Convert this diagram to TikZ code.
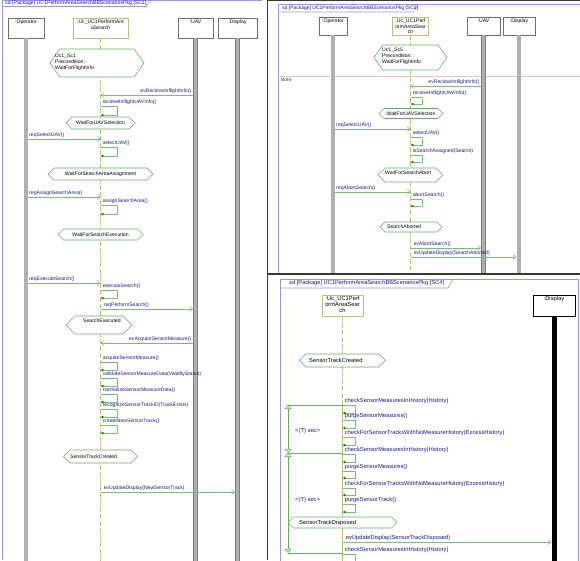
\documentclass[tikz,border=0pt]{standalone}
\usepackage{fontspec}
\setmainfont{Liberation Sans}
\definecolor{FrameColor}{RGB}{150,150,225}
\definecolor{MsgColor}{RGB}{120,190,120}
\definecolor{HeadColor}{RGB}{0,120,0}
\definecolor{LabelColor}{RGB}{25,25,120}
\definecolor{CondColor}{RGB}{100,170,100}
\definecolor{BoxColor}{RGB}{110,110,110}
\definecolor{UcColor}{RGB}{190,190,120}
\definecolor{BarLight}{RGB}{175,175,175}
\definecolor{BarDark}{RGB}{125,125,125}
\definecolor{NoteColor}{RGB}{235,190,205}
\definecolor{DividerColor}{RGB}{55,55,55}
\usetikzlibrary{arrows.meta, shapes.symbols}
\tikzset{
    small/.style={font=\fontsize{5.1}{6.2}\selectfont},
    large/.style={font=\fontsize{5.8}{5.8}\selectfont},
    lifebox/.style={draw=BoxColor, fill=white, minimum height=20pt, inner sep=0pt},
    ucbox/.style={lifebox, draw=UcColor},
    boxtext/.style={small, anchor=north, align=center, inner sep=1.5pt},
    bar/.style={draw=BarDark, line width=0.5pt, double=BarLight, double distance=3.5pt},
    blackbar/.style={draw=black, line width=5pt},
    ucline/.style={draw=UcColor, line width=0.7pt, dash pattern=on 5pt off 2pt},
    ucsolid/.style={draw=UcColor, line width=0.9pt},
    msg/.style={draw=MsgColor, line width=0.6pt, -{Straight Barb[length=3pt,width=5pt]}},
    frombar/.style={shorten <=2.3pt},
    tobar/.style={shorten >=2.5pt},
    selfmsg/.style={draw=MsgColor, line width=0.6pt, -{Latex[length=2.8pt,width=2.8pt,color=HeadColor]}},
    lbl/.style={small, text=LabelColor, inner sep=1pt},
    fromleft/.style={lbl, pos=0, anchor=south west, xshift=2pt},
    fromright/.style={lbl, pos=0, anchor=south east, xshift=-3pt},
    callname/.style={lbl, anchor=south west, xshift=1pt},
    callbig/.style={callname, large},
    cond/.style={shape=signal, signal to=east and west, signal pointer angle=90,
        draw=CondColor, fill=white, small, inner sep=1pt, line width=0.6pt},
    condtext/.style={small, anchor=west, align=left, inner sep=0pt},
    loopline/.style={draw=CondColor, line width=0.7pt},
    looptip/.style={loopline, {Triangle[open,length=4pt,width=7pt]}-{Triangle[open,length=4pt,width=7pt]}},
    frame/.style={draw=FrameColor, line width=0.6pt},
    tabtext/.style={text=LabelColor, inner sep=0pt, anchor=west},
    noteline/.style={draw=NoteColor, line width=0.6pt},
    divider/.style={draw=DividerColor, line width=1.6pt}
}

\begin{document}
\begin{tikzpicture}[x=1pt, y=-1pt]
\useasboundingbox (0,0) rectangle (580,560);

% SC1
\draw[frame] (2,560) -- (2,0.5) -- (262,0.5);
\draw[frame] (2,6.5) -- (146,6.5) -- (151,0.5);
\node[tabtext, font=\fontsize{5.2}{5.5}\selectfont] (tab1) at (5,3.3) {sd [Package] UC1PerformAreaSearchBBScenariosPkg [SC1]};

\node[lifebox, minimum width=36pt] (op1) at (26,28) {};
\node[boxtext] (op1t) at (op1.north) {:Operator};
\node[ucbox, minimum width=55pt] (uc1) at (100.5,28) {};
\node[boxtext] (uc1t) at (uc1.north) {:Uc\_UC1PerformAre\\aSearch};
\node[lifebox, minimum width=35pt] (uav1) at (195.5,28) {};
\node[boxtext] (uav1t) at (uav1.north) {:UAV};
\node[lifebox, minimum width=39pt] (disp1) at (237.5,28) {};
\node[boxtext] (disp1t) at (disp1.north) {:Display};

\draw[bar] (op1.south) -- (op1 |- 0,561);
\draw[ucline] (uc1.south) -- (uc1 |- 0,561);
\draw[bar] (uav1.south) -- (uav1 |- 0,561);
\draw[bar] (disp1.south) -- (disp1 |- 0,561);

\node[cond, signal pointer angle=110, minimum width=94pt, minimum height=28pt] (pre1) at (97,63) {};
\node[condtext] (pre1t) at (55,62) {Uc1\_Sc1\\Precondition:\\WaitForFlightInfo};
\draw[msg, frombar] (uav1 |- 0,95) -- node[fromright] (m1) {evRecieveInflightInfo()} (uc1 |- 0,95);
\draw[selfmsg] (uc1 |- 0,106) node[callname] (s1) {recieveInflightUAVInfo()} -- ++(17,0) -- ++(0,9) -- (uc1 |- 0,115);
\node[cond, minimum width=69pt, minimum height=12pt] (c1) at (uc1 |- 0,123) {WaitForUAVSelection};
\draw[msg, frombar] (op1 |- 0,139) -- node[fromleft] (m2) {reqSelectUAV()} (uc1 |- 0,139);
\draw[selfmsg] (uc1 |- 0,147) node[callname] (s2) {selectUAV()} -- ++(17,0) -- ++(0,9) -- (uc1 |- 0,156);
\node[cond, minimum width=105pt, minimum height=12pt] (c2) at (uc1 |- 0,174) {WaitForSearchAreaAssignment};
\draw[msg, frombar] (op1 |- 0,197) -- node[fromleft] (m3) {reqAssignSearchArea()} (uc1 |- 0,197);
\draw[selfmsg] (uc1 |- 0,205) node[callname] (s3) {assignSearchArea()} -- ++(17,0) -- ++(0,9) -- (uc1 |- 0,214);
\node[cond, minimum width=85pt, minimum height=11pt] (c3) at (uc1 |- 0,234.5) {WaitForSearchExecution};
\draw[msg, frombar] (op1 |- 0,283) -- node[fromleft] (m4) {reqExecuteSearch()} (uc1 |- 0,283);
\draw[selfmsg] (uc1 |- 0,290) node[callname] (s4) {executeSearch()} -- ++(17,0) -- ++(0,8) -- (uc1 |- 0,298);
\draw[msg, tobar] (uc1 |- 0,309) -- node[fromleft] (m5) {reqPerformSearch()} (uav1 |- 0,309);
\node[cond, minimum width=66pt, minimum height=18pt] (c4) at (99,325) {};
\node[condtext] (c4t) at (83,321) {SearchExecuted};
\draw[msg, frombar] (uav1 |- 0,343) -- node[fromright] (m6) {evAcquireSensorMeasure()} (uc1 |- 0,343);
\draw[selfmsg] (uc1 |- 0,362) node[callname] (s5) {acquireSensorMeasure()} -- ++(17,0) -- ++(0,8) -- (uc1 |- 0,370);
\draw[selfmsg] (uc1 |- 0,378) node[callname] (s6) {validateSensorMeasureData(ValidityStatus)} -- ++(17,0) -- ++(0,8) -- (uc1 |- 0,386);
\draw[selfmsg] (uc1 |- 0,394) node[callname] (s7) {normalizeSensorMeasureData()} -- ++(17,0) -- ++(0,8) -- (uc1 |- 0,402);
\draw[selfmsg] (uc1 |- 0,409) node[callname] (s8) {recognizeSensorTrackID(TrackExists)} -- ++(17,0) -- ++(0,8) -- (uc1 |- 0,417);
\draw[selfmsg] (uc1 |- 0,425) node[callname] (s9) {createNewSensorTrack()} -- ++(17,0) -- ++(0,8) -- (uc1 |- 0,433);
\node[cond, minimum width=74pt, minimum height=13pt] (c5) at (uc1 |- 0,456.5) {};
\node[condtext] (c5t) at (70,456.5) {SensorTrackCreated};
\draw[msg, tobar] (uc1 |- 0,492) -- node[fromleft] (m7) {evUpdateDisplay(NewSensorTrack)} (disp1 |- 0,492);

% SC5
\draw[frame] (278,274) -- (278,4.5) -- (580,4.5);
\draw[frame] (278,12) -- (413,12) -- (418,4.5);
\node[tabtext, font=\fontsize{5}{5.5}\selectfont] (tab2) at (282,8.3) {sd [Package] UC1PerformAreaSearchBBScenariosPkg [SC5]};

\node[lifebox, minimum width=28pt, minimum height=18pt] (op2) at (333,26) {};
\node[boxtext] (op2t) at (op2.north) {:Operator};
\node[ucbox, minimum width=36pt, minimum height=18pt] (uc2) at (410.5,26) {};
\node[boxtext, font=\fontsize{5.1}{5.9}\selectfont] (uc2t) at (uc2.north) {:Uc\_UC1Perf\\ormAreaSear\\ch};
\node[lifebox, minimum width=33pt, minimum height=18pt] (uav2) at (483.5,26) {};
\node[boxtext] (uav2t) at (uav2.north) {:UAV};
\node[lifebox, minimum width=32pt, minimum height=18pt] (disp2) at (519,26) {};
\node[boxtext] (disp2t) at (disp2.north) {:Display};

\draw[noteline] (278,76) -- (580,76);
\node[small, text=LabelColor!70!gray, anchor=north west, inner sep=0.5pt] (note) at (280,76.8) {Note};

\draw[bar] (op2.south) -- (op2 |- 0,273);
\draw[ucline] (uc2.south) -- (uc2 |- 0,273);
\draw[bar] (uav2.south) -- (uav2 |- 0,273);
\draw[bar] (disp2.south) -- (disp2 |- 0,273);

\node[cond, signal pointer angle=110, minimum width=73pt, minimum height=25pt] (pre2) at (410.5,57.5) {};
\node[condtext] (pre2t) at (382,56.5) {Uc1\_Sc5\\Precondition:\\WaitForFlightInfo};
\draw[msg, frombar] (uav2 |- 0,86) -- node[fromright] (n1) {evRecieveInflightInfo()} (uc2 |- 0,86);
\draw[selfmsg] (uc2 |- 0,97) node[callname] (t1) {recieveInflightUAVInfo()} -- ++(12,0) -- ++(0,7) -- (uc2 |- 0,104);
\node[cond, minimum width=64pt, minimum height=10pt] (d1) at (411,113.5) {WaitForUAVSelection};
\draw[msg, frombar] (op2 |- 0,129) -- node[fromleft] (n2) {reqSelectUAV()} (uc2 |- 0,129);
\draw[selfmsg] (uc2 |- 0,137) node[callname] (t2) {selectUAV()} -- ++(12,0) -- ++(0,8) -- (uc2 |- 0,145);
\draw[selfmsg] (uc2 |- 0,155) node[callname] (t3) {isSearchAssigned(Search)} -- ++(12,0) -- ++(0,7) -- (uc2 |- 0,162);
\node[cond, minimum width=65pt, minimum height=14pt] (d2) at (410.5,175) {};
\node[condtext] (d2t) at (385,172.5) {WaitForSearchAbort};
\draw[msg, frombar] (op2 |- 0,192) -- node[fromleft] (n3) {reqAbortSearch()} (uc2 |- 0,192);
\draw[selfmsg] (uc2 |- 0,199) node[callname] (t4) {abortSearch()} -- ++(12,0) -- ++(0,7) -- (uc2 |- 0,206);
\node[cond, minimum width=62pt, minimum height=10pt] (d3) at (411,227) {};
\node[condtext] (d3t) at (387,226.5) {SearchAborted};
\draw[msg, tobar] (uc2 |- 0,248) -- node[fromleft] (n4) {evAbortSearch()} (uav2 |- 0,248);
\draw[msg, tobar] (uc2 |- 0,257) -- node[fromleft] (n5) {evUpdateDisplay(SearchAborted)} (disp2 |- 0,257);

% SC4
\draw[frame] (280,561) -- (280,279) -- (578,279) -- (578,561);
\draw[frame] (280,288) -- (448,288) -- (453,279);
\node[tabtext, font=\fontsize{5.7}{6}\selectfont] (tab3) at (289,283.5) {sd [Package] UC1PerformAreaSearchBBScenariosPkg [SC4]};

\node[ucbox, minimum width=41pt, minimum height=21pt] (uc3) at (342.5,305.5) {};
\node[boxtext, large] (uc3t) at (uc3.north) {:Uc\_UC1Perf\\ormAreaSear\\ch};
\node[lifebox, draw=black, minimum width=42pt, minimum height=21pt] (disp3) at (554,305.5) {};
\node[boxtext, large] (disp3t) at (disp3.north) {:Display};

\draw[ucline] (uc3.south) -- (uc3 |- 0,400);
\draw[ucsolid] (uc3 |- 0,400) -- (uc3 |- 0,561);
\draw[blackbar] (disp3.south) -- (disp3 |- 0,561);

\node[cond, large, minimum width=86pt, minimum height=13pt] (e1) at (uc3 |- 0,360.5) {};
\node[condtext, large] (e1t) at (309,360.5) {SensorTrackCreated};

\coordinate (lp1top) at (288,405);
\coordinate (lp1bot) at (288,453);
\coordinate (lp2bot) at (288,553);
\draw[looptip] (lp1bot) -- (lp1top);
\draw[looptip] (lp2bot) -- (lp1bot);
\draw[loopline] (lp1top) -- (uc3 |- lp1top);
\draw[loopline] (lp1bot) -- (uc3 |- lp1bot);
\draw[loopline] (lp2bot) -- (uc3 |- lp2bot);
\node[lbl, large, anchor=west] (tsec1) at (294,431) {<(T) sec>};
\node[lbl, large, anchor=west] (tsec2) at (294,500) {<(T) sec>};

\draw[selfmsg] (uc3 |- 0,405) node[callbig] (u1) {checkSensorMeasuresInHistory(History)} -- ++(13,0) -- ++(0,8) -- (uc3 |- 0,413);
\draw[selfmsg] (uc3 |- 0,420) node[callbig] (u2) {purgeSensorMeasures()} -- ++(13,0) -- ++(0,8) -- (uc3 |- 0,428);
\draw[selfmsg] (uc3 |- 0,437) node[callbig] (u3) {checkForSensorTracksWithNoMeasureHistory(ExcessHistory)} -- ++(13,0) -- ++(0,8) -- (uc3 |- 0,445);
\draw[selfmsg] (uc3 |- 0,454) node[callbig] (u4) {checkSensorMeasuresInHistory(History)} -- ++(13,0) -- ++(0,8) -- (uc3 |- 0,462);
\draw[selfmsg] (uc3 |- 0,471) node[callbig] (u5) {purgeSensorMeasures()} -- ++(13,0) -- ++(0,7) -- (uc3 |- 0,478);
\draw[selfmsg] (uc3 |- 0,488) node[callbig] (u6) {checkForSensorTracksWithNoMeasureHistory(ExcessHistory)} -- ++(13,0) -- ++(0,7) -- (uc3 |- 0,495);
\draw[selfmsg] (uc3 |- 0,504) node[callbig] (u7) {purgeSensorTrack()} -- ++(13,0) -- ++(0,8) -- (uc3 |- 0,512);
\node[cond, large, minimum width=109pt, minimum height=11pt] (e2) at (uc3 |- 0,522.5) {};
\node[condtext, large] (e2t) at (299,522.5) {SensorTrackDisposed};
\draw[msg, tobar] (uc3 |- 0,542) -- node[fromleft, large] (v1) {evUpdateDisplay(SensorTrackDisposed)} (disp3 |- 0,542);
\draw[selfmsg] (uc3 |- 0,554) node[callbig] (u8) {checkSensorMeasuresInHistory(History)} -- ++(13,0) -- ++(0,8) -- (uc3 |- 0,562);

\draw[divider] (267.5,0) -- (267.5,560);
\draw[divider] (267.5,274) -- (580,274);
\draw[draw=DividerColor, line width=1pt] (267.5,0.5) -- (580,0.5);
\end{tikzpicture}
\end{document}
